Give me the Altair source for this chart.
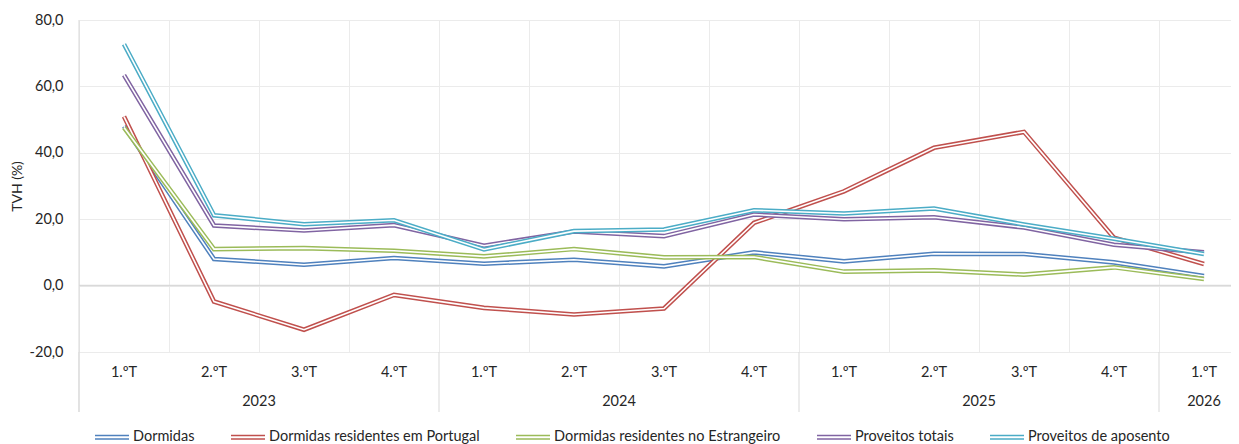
import altair as alt
import pandas as pd

quarters = ["1.ºT", "2.ºT", "3.ºT", "4.ºT",
            "1.ºT", "2.ºT", "3.ºT", "4.ºT",
            "1.ºT", "2.ºT", "3.ºT", "4.ºT",
            "1.ºT"]
years = ["2023"] * 4 + ["2024"] * 4 + ["2025"] * 4 + ["2026"]

series_names = [
    "Dormidas",
    "Dormidas residentes em Portugal",
    "Dormidas residentes no Estrangeiro",
    "Proveitos totais",
    "Proveitos de aposento",
]
dormidas = [48.0, 8.0, 6.3, 8.3, 6.6, 7.8, 5.8, 10.0, 7.3, 9.6, 9.5, 7.0, 2.9]
dormidas_pt = [50.9, -4.8, -13.3, -2.8, -6.7, -8.7, -6.9, 18.9, 28.4, 41.5, 46.3, 14.4, 6.5]
dormidas_estr = [47.6, 11.0, 11.3, 10.5, 8.8, 11.0, 8.5, 8.6, 4.2, 4.6, 3.3, 5.5, 2.0]
proveitos_totais = [63.4, 18.1, 16.6, 18.2, 12.0, 16.3, 14.9, 21.4, 20.0, 20.6, 17.5, 12.3, 10.0]
proveitos_aposento = [72.7, 21.2, 18.5, 19.7, 10.9, 16.4, 16.9, 22.7, 21.7, 23.2, 18.4, 14.1, 9.5]
series_values = [dormidas, dormidas_pt, dormidas_estr, proveitos_totais, proveitos_aposento]
colors = ["#4F81BD", "#C0504D", "#9BBB59", "#8064A2", "#4BACC6"]

y_ticks = [-20, 0, 20, 40, 60, 80]

rows = []
for name, vals in zip(series_names, series_values):
    for i, (q, yr, v) in enumerate(zip(quarters, years, vals)):
        rows.append({"series": name, "pos": i + 0.5, "q": q, "year": yr, "value": v})
df = pd.DataFrame(rows)
axis_df = pd.DataFrame({"pos": [i + 0.5 for i in range(len(quarters))],
                        "q": quarters, "year": years})

FONT = "Lato"
TXT = "#262626"
GRID = "#ebebeb"
x_scale = alt.Scale(domain=[0, 12.8], nice=False, zero=False)
y_scale = alt.Scale(domain=[-20, 80], nice=False, zero=False)

x_axis = alt.Axis(values=list(range(13)), grid=True, gridColor=GRID, gridWidth=1,
                  labels=False, ticks=False, domain=False, title=None)
y_axis = alt.Axis(values=y_ticks, grid=True, gridColor=GRID, gridWidth=1,
                  labelExpr="replace(replace(format(datum.value, '.1f'), '.', ','), '\u2212', '-')",
                  labelFontSize=14.5, labelColor=TXT, labelFont=FONT, labelPadding=16,
                  ticks=False, domain=False, title="TVH (%)", titleFontSize=14,
                  titleFontWeight="normal", titleColor=TXT, titleFont=FONT,
                  titleX=-62, titleY=166, titleAngle=270, titleAlign="center",
                  titleBaseline="middle")


def X(field):
    return alt.X(field, scale=x_scale, axis=x_axis, title=None)


def Y(field):
    return alt.Y(field, scale=y_scale, axis=y_axis, title="TVH (%)")


zero_line = alt.Chart(pd.DataFrame({"v": [0]})).mark_rule(color="#d9d9d9", strokeWidth=1.5).encode(
    y=Y("v:Q")
)

left_line = alt.Chart(pd.DataFrame({"v": [0]})).mark_rule(color="#d9d9d9", strokeWidth=1).encode(
    x=alt.value(0), y=alt.value(0), y2=alt.value(392)
)

separators = alt.Chart(axis_df).transform_aggregate(
    start="min(pos)", groupby=["year"]
).transform_calculate(b="datum.start - 0.5").mark_rule(color="#d9d9d9", strokeWidth=1).encode(
    x=X("b:Q"), y=alt.value(332), y2=alt.value(392)
)

q_labels = alt.Chart(axis_df).mark_text(fontSize=14.5, font=FONT, color=TXT, baseline="middle").encode(
    x=X("pos:Q"), y=alt.value(353), text="q:N"
)

year_labels = alt.Chart(axis_df).transform_aggregate(
    center="mean(pos)", groupby=["year"]
).mark_text(fontSize=14.5, font=FONT, color=TXT, baseline="middle").encode(
    x=X("center:Q"), y=alt.value(382), text="year:N"
)

color_enc = alt.Color(
    "series:N",
    scale=alt.Scale(domain=series_names, range=colors),
    legend=alt.Legend(
        title=None, orient="none", direction="horizontal", legendX=15, legendY=399,
        symbolType="M-1,-0.1H1M-1,0.1H1", symbolSize=1156, symbolStrokeWidth=1.4,
        symbolFillColor="transparent",
        labelFontSize=14.5, labelFont=FONT, labelColor=TXT, labelOffset=3,
        columnPadding=33, padding=0, labelLimit=400,
    ),
)

line_layers = []
for name in series_names:
    base = alt.Chart(df).transform_filter(alt.datum.series == name).encode(
        x=X("pos:Q"),
        y=Y("value:Q"),
        order="pos:Q",
    )
    line_layers.append(base.mark_line(strokeWidth=4.6).encode(color=color_enc))
    line_layers.append(base.mark_line(strokeWidth=1.6, color="white"))

chart = alt.layer(
    zero_line, left_line, separators, q_labels, year_labels, *line_layers
).properties(
    width=1152, height=332,
    autosize=alt.AutoSizeParams(type="none"),
    padding={"left": 71, "top": 12, "right": 0, "bottom": 92},
).configure(font=FONT).configure_view(stroke=None)

chart.save("out.html", embed_options={"renderer": "svg", "actions": False})
